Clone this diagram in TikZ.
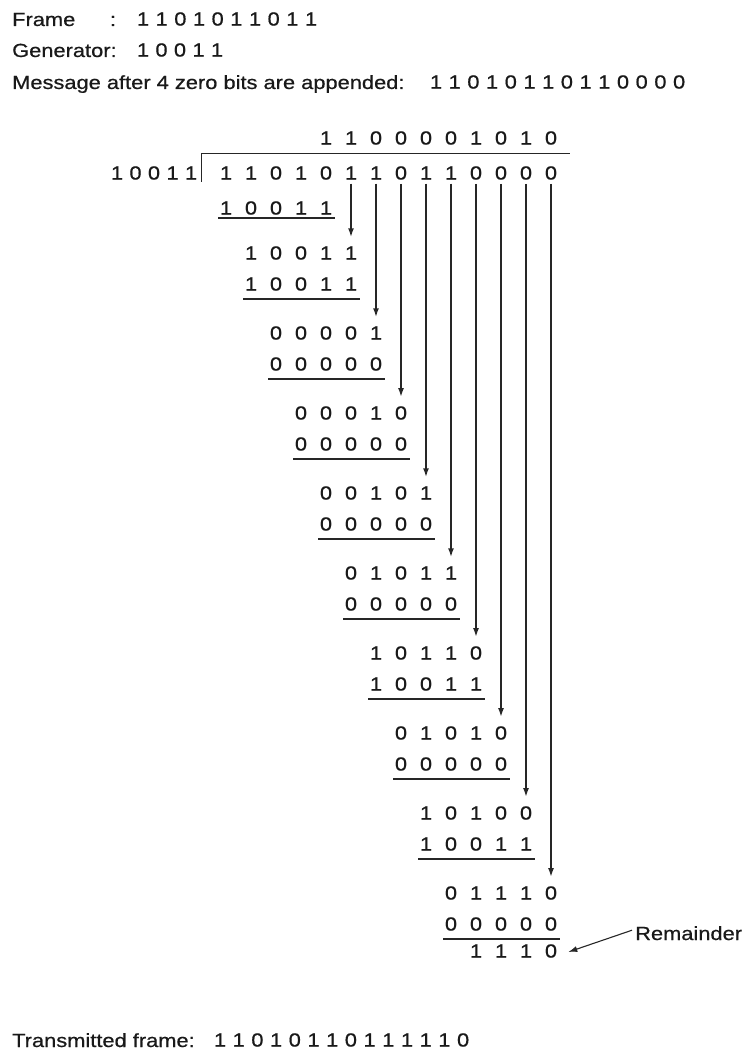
\documentclass[tikz,border=0pt]{standalone}
\usepackage{fontspec}
\setmainfont{Liberation Sans}
\newfontfamily\labfont[FakeStretch=1.15,FakeBold=0.6]{Liberation Sans}
\usetikzlibrary{arrows.meta,calc}
\definecolor{ink}{gray}{0.1}
\definecolor{linec}{gray}{0.15}
% digits in division columns: #1 name, #2 start column, #3 y, #4 digits
\newcommand\digrow[4]{%
  \foreach \d [count=\k from 0] in {#4} {
    \node[dig] (#1-\k) at ({226+25*(#2+\k)}, #3) {\d};
  }}
% free digit string: #1 name, #2 x0, #3 dx, #4 y, #5 digits
\newcommand\digstr[5]{%
  \foreach \d [count=\k from 0] in {#5} {
    \node[dig] (#1-\k) at ({#2+#3*\k}, #4) {\d};
  }}
\begin{document}
\begin{tikzpicture}[x=1pt,y=-1pt,
  lab/.style={font=\labfont\fontsize{19}{22}\selectfont, text=ink, inner sep=0pt, anchor=base west},
  dig/.style={font=\labfont\fontsize{19}{22}\selectfont, text=ink, inner sep=0pt, anchor=center},
  rule/.style={draw=linec, line width=1.4pt},
  bracket/.style={draw=linec, line width=1.1pt},
  colarrow/.style={draw=linec, line width=1.7pt, -{Latex[length=9pt,width=6pt]}, shorten <=4pt, shorten >=9pt},
  remarrow/.style={draw=linec, line width=1.1pt, -{Latex[length=9pt,width=6pt]}},
]
\useasboundingbox[fill=white] (0,0) rectangle (744,1051);

% header
\node[lab] (frame) at (12,26) {Frame};
\node[lab, anchor=base] (colon) at (113,26) {:};
\digstr{fr}{143}{18.67}{19}{1,1,0,1,0,1,1,0,1,1}
\node[lab] (gen) at (12,57) {Generator:};
\digstr{gn}{143}{18.5}{50}{1,0,0,1,1}
\node[lab] (msg) at (12,89) {Message after 4 zero bits are appended:};
\digstr{ms}{436}{18.7}{82}{1,1,0,1,0,1,1,0,1,1,0,0,0,0}

% division header
\digrow{qt}{4}{138}{1,1,0,0,0,0,1,0,1,0}
\digstr{dvs}{117}{18.5}{173}{1,0,0,1,1}
\draw[bracket] (201.7,182) -- (201.7,153.5) -- (570,153.5);
\digrow{dv}{0}{173}{1,1,0,1,0,1,1,0,1,1,0,0,0,0}

% first subtraction
\digrow{s0}{0}{208}{1,0,0,1,1}
\draw[rule] ($(s0-0)+(-8,10)$) -- ($(s0-4)+(9,10)$);

% steps
\digrow{t1}{1}{253}{1,0,0,1,1}
\digrow{b1}{1}{284}{1,0,0,1,1}
\digrow{t2}{2}{333}{0,0,0,0,1}
\digrow{b2}{2}{364}{0,0,0,0,0}
\digrow{t3}{3}{413}{0,0,0,1,0}
\digrow{b3}{3}{444}{0,0,0,0,0}
\digrow{t4}{4}{493}{0,0,1,0,1}
\digrow{b4}{4}{524}{0,0,0,0,0}
\digrow{t5}{5}{573}{0,1,0,1,1}
\digrow{b5}{5}{604}{0,0,0,0,0}
\digrow{t6}{6}{653}{1,0,1,1,0}
\digrow{b6}{6}{684}{1,0,0,1,1}
\digrow{t7}{7}{733}{0,1,0,1,0}
\digrow{b7}{7}{764}{0,0,0,0,0}
\digrow{t8}{8}{813}{1,0,1,0,0}
\digrow{b8}{8}{844}{1,0,0,1,1}
\digrow{t9}{9}{893}{0,1,1,1,0}
\digrow{b9}{9}{924}{0,0,0,0,0}
\foreach \i in {1,...,9} {
  \draw[rule] ($(b\i-0)+(-8,15)$) -- ($(b\i-4)+(9,15)$);
}

% bring-down arrows
\foreach \i [evaluate=\i as \c using int(4+\i)] in {1,...,9} {
  \draw[colarrow] (dv-\c) -- (t\i-4);
}

% remainder
\digrow{r}{10}{951}{1,1,1,0}
\node[lab] (rem) at (635,940) {Remainder};
\coordinate (ra) at ([xshift=-3pt,yshift=3pt]rem.west);
\coordinate (rtip) at ([xshift=11pt,yshift=-1pt]r-3.east);
\draw[remarrow] (ra) -- (rtip);

% transmitted frame
\node[lab] (tx) at (12,1047) {Transmitted frame:};
\digstr{tf}{220}{18.7}{1040}{1,1,0,1,0,1,1,0,1,1,1,1,1,0}
\end{tikzpicture}
\end{document}
